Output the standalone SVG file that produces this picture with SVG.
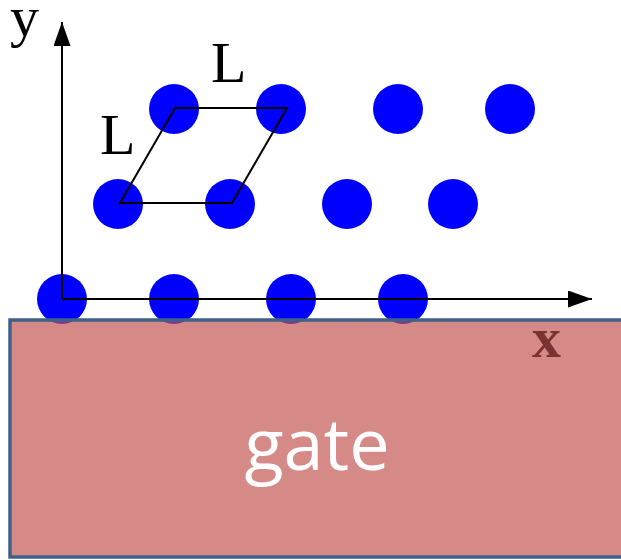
<svg xmlns="http://www.w3.org/2000/svg" width="621" height="560" viewBox="0 0 621 560">
<style>
.atom{fill:#0000ff}
.ser{font-family:"Liberation Serif","Times New Roman",serif}
</style>
<defs>
<marker id="ah" markerWidth="26" markerHeight="18" refX="24" refY="8.5" orient="auto" markerUnits="userSpaceOnUse">
<path d="M0,0 L24,8.5 L0,17 Z" fill="#000"/>
</marker>
</defs>
<rect width="621" height="560" fill="#fff"/>
<g id="atoms">
<circle class="atom" cx="174" cy="109" r="25"/>
<circle class="atom" cx="281" cy="109" r="25"/>
<circle class="atom" cx="398" cy="109" r="25"/>
<circle class="atom" cx="510" cy="109" r="25"/>
<circle class="atom" cx="118" cy="204" r="25"/>
<circle class="atom" cx="230" cy="204" r="25"/>
<circle class="atom" cx="347" cy="204" r="25"/>
<circle class="atom" cx="453" cy="204" r="25"/>
<circle class="atom" cx="62" cy="299" r="25"/>
<circle class="atom" cx="174" cy="299" r="25"/>
<circle class="atom" cx="291" cy="299" r="25"/>
<circle class="atom" cx="403" cy="299" r="25"/>
</g>
<g id="gate">
<rect x="10" y="320" width="620" height="237" fill="#c0504d" fill-opacity="0.67" stroke="#3f6089" stroke-width="3.5"/>
<text x="317" y="470" text-anchor="middle" font-family="'Open Sans','Noto Sans',sans-serif" font-size="72" fill="#fff">gate</text>
</g>
<g id="cell">
<path d="M120,203 L175,108 L287,108 L232,203 Z" fill="none" stroke="#000" stroke-width="2"/>
</g>
<g id="axes">
<line x1="62" y1="299" x2="62" y2="22" stroke="#000" stroke-width="2" marker-end="url(#ah)"/>
<line x1="62" y1="299" x2="592" y2="299" stroke="#000" stroke-width="2" marker-end="url(#ah)"/>
</g>
<g id="labels">
<text class="ser" x="10" y="36" font-size="58" fill="#000">y</text>
<text class="ser" x="211" y="82" font-size="58" fill="#000">L</text>
<text class="ser" x="100" y="154" font-size="58" fill="#000">L</text>
<text class="ser" x="532" y="357" font-size="58" font-weight="bold" fill="#7a3330">x</text>
</g>
</svg>
